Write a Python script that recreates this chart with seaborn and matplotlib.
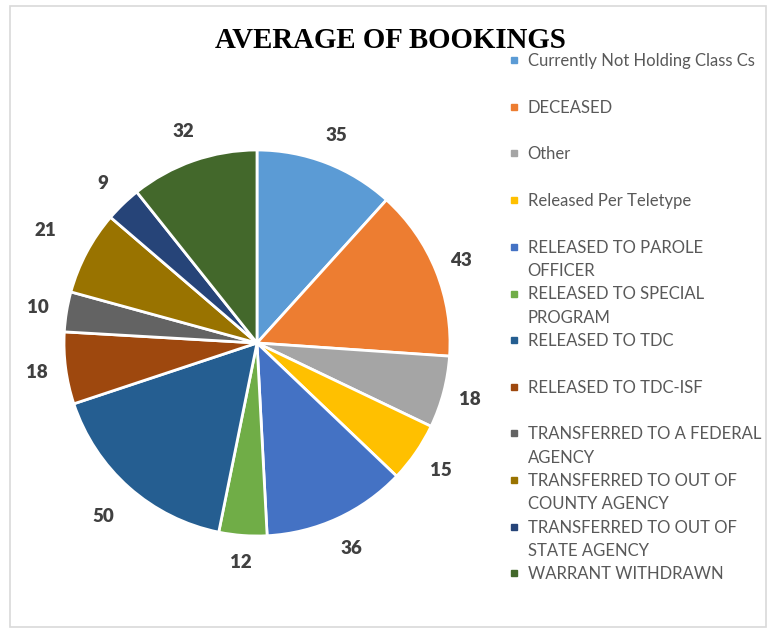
import matplotlib
matplotlib.use("Agg")
import numpy as np
import matplotlib.pyplot as plt
import seaborn as sns
from matplotlib.lines import Line2D
from matplotlib.patches import Rectangle

# Data
categories = [
    "Currently Not Holding Class Cs",
    "DECEASED",
    "Other",
    "Released Per Teletype",
    "RELEASED TO PAROLE\nOFFICER",
    "RELEASED TO SPECIAL\nPROGRAM",
    "RELEASED TO TDC",
    "RELEASED TO TDC-ISF",
    "TRANSFERRED TO A FEDERAL\nAGENCY",
    "TRANSFERRED TO OUT OF\nCOUNTY AGENCY",
    "TRANSFERRED TO OUT OF\nSTATE AGENCY",
    "WARRANT WITHDRAWN",
]
bookings = [35, 43, 18, 15, 36, 12, 50, 18, 10, 21, 9, 32]
colors = ["#5B9BD5", "#ED7D31", "#A5A5A5", "#FFC000", "#4472C4", "#70AD47",
          "#255E91", "#9E480E", "#636363", "#997300", "#264478", "#43682B"]
# how far out each value label sits (in pie radii)
label_dist = [1.15, 1.14, 1.14, 1.16, 1.17, 1.14, 1.20, 1.15, 1.15, 1.24, 1.15, 1.16]

sns.set_style("white")
plt.rcParams["font.family"] = ["Lato", "DejaVu Sans"]

fig = plt.figure(figsize=(7.7, 6.32), dpi=100)
fig.patches.append(Rectangle((10 / 770, 5 / 632), 756 / 770, 621 / 632,
                             transform=fig.transFigure, fill=False,
                             edgecolor="#d9d9d9", linewidth=1.2))

# pie axes: centre ~ (257, 343) px, radius ~ 193 px
ax = fig.add_axes([(257 - 193) / 770, (632 - 343 - 193) / 632, 386 / 770, 386 / 632])
wedges, texts = ax.pie(
    bookings,
    colors=colors,
    startangle=90,
    counterclock=False,
    labels=[str(v) for v in bookings],
    wedgeprops=dict(edgecolor="white", linewidth=2),
    textprops=dict(fontsize=13.5, fontweight="heavy", color="#404040"),
)
for w, t, d in zip(wedges, texts, label_dist):
    ang = np.deg2rad((w.theta1 + w.theta2) / 2)
    t.set_position((d * np.cos(ang), d * np.sin(ang)))
    t.set_ha("center")
    t.set_va("center")
ax.set_xlim(-1, 1)
ax.set_ylim(-1, 1)
ax.set_aspect("equal")
ax.axis("off")

fig.text(390 / 770, 1 - 41 / 632, "AVERAGE OF BOOKINGS", ha="center", va="center",
         fontsize=20.8, fontweight="bold", family=["Liberation Serif"], color="black")

# legend: two rows per category so spacing stays uniform
handles, labels = [], []
for name, col in zip(categories, colors):
    parts = name.split("\n")
    if len(parts) == 1:
        parts.append(" ")
    handles.append(Line2D([], [], marker="s", linestyle="none", markersize=5,
                          markerfacecolor=col, markeredgecolor=col))
    labels.append(parts[0])
    handles.append(Line2D([], [], linestyle="none"))
    labels.append(parts[1])

fig.legend(handles, labels, loc="upper left", bbox_to_anchor=(510 / 770, 1 - 53 / 632),
           frameon=False, fontsize=12, labelcolor="#595959", handlelength=0.5,
           handletextpad=0.55, labelspacing=0.44, borderpad=0, borderaxespad=0)

fig.savefig("out.png", dpi=100)
